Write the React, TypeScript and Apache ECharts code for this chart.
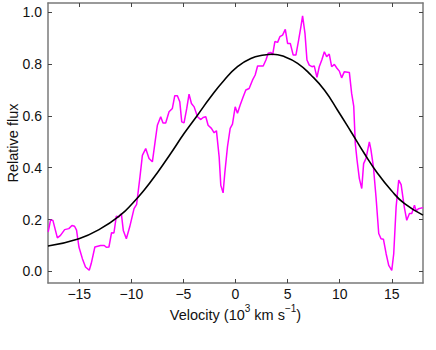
import React, { useEffect, useRef } from "react";
import * as echarts from "echarts";

const spectrumVelocity = [
  -17.98, -17.76, -17.53, -17.1, -16.8, -16.4, -16.0, -15.7, -15.45, -15.26, -15.03, -14.7, -14.4, -14.04, -13.85, -13.5,
  -12.95, -12.6, -12.4, -12.15, -11.9, -11.67, -11.44, -11.2, -10.96, -10.77, -10.48, -10.16, -9.74, -9.49, -9.17, -8.94,
  -8.62, -8.3, -7.98, -7.72, -7.5, -7.18, -6.96, -6.7, -6.38, -6.06, -5.83, -5.58, -5.35, -5.16, -4.94, -4.68, -4.46, -4.23,
  -3.97, -3.65, -3.33, -3.11, -2.85, -2.63, -2.31, -2.05, -1.83, -1.57, -1.41, -1.19, -1.03, -0.77, -0.51, -0.29, -0.03,
  0.19, 0.45, 0.74, 0.99, 1.31, 1.63, 1.89, 2.12, 2.37, 2.66, 2.92, 3.14, 3.4, 3.56, 3.78, 4.04, 4.26, 4.52, 4.78, 5.0,
  5.26, 5.54, 5.8, 6.06, 6.28, 6.44, 6.67, 6.86, 7.08, 7.34, 7.56, 7.82, 8.04, 8.3, 8.53, 8.75, 9.0, 9.23, 9.49, 9.74,
  9.97, 10.19, 10.45, 10.93, 11.15, 11.35, 11.5, 11.67, 11.89, 12.12, 12.3, 12.53, 12.85, 13.0, 13.24, 13.49, 13.75,
  13.97, 14.2, 14.46, 14.71, 15.0, 15.19, 15.42, 15.67, 15.9, 16.2, 16.44, 16.7, 16.92, 17.18, 17.34, 17.56, 18.0,
];
const spectrumFlux = [
  0.152, 0.197, 0.197, 0.129, 0.139, 0.161, 0.165, 0.177, 0.174, 0.159, 0.094, 0.049, 0.017, 0.004, 0.03, 0.094,
  0.1, 0.1, 0.093, 0.094, 0.149, 0.148, 0.213, 0.21, 0.223, 0.158, 0.126, 0.171, 0.242, 0.259, 0.365, 0.448,
  0.474, 0.436, 0.423, 0.5, 0.564, 0.597, 0.573, 0.573, 0.616, 0.629, 0.678, 0.678, 0.655, 0.577, 0.573, 0.629, 0.684, 0.648,
  0.635, 0.597, 0.586, 0.594, 0.597, 0.564, 0.552, 0.535, 0.543, 0.442, 0.332, 0.303, 0.378, 0.481, 0.552, 0.568, 0.635,
  0.61, 0.642, 0.674, 0.7, 0.706, 0.738, 0.758, 0.793, 0.793, 0.793, 0.816, 0.842, 0.845, 0.835, 0.887, 0.884, 0.906, 0.912, 0.934, 0.88,
  0.88, 0.835, 0.835, 0.893, 0.945, 0.986, 0.919, 0.816, 0.796, 0.79, 0.793, 0.749, 0.79, 0.818, 0.848, 0.829, 0.839, 0.79, 0.799, 0.784,
  0.773, 0.747, 0.771, 0.768, 0.687, 0.638, 0.494, 0.429, 0.358, 0.32, 0.416, 0.436, 0.5, 0.47, 0.403, 0.287, 0.146,
  0.126, 0.124, 0.068, 0.023, 0.004, 0.068, 0.249, 0.352, 0.335, 0.249, 0.197, 0.223, 0.223, 0.255, 0.233, 0.242, 0.246,
];

const fitVelocity = [
  -18, -15.03, -12.95, -11.0, -9.9, -8.78, -7.5, -6.22, -4.94, -3.65, -2.37, -1.09, 0.19, 1.47, 2.76, 3.56, 4.68, 5.96,
  7.24, 8.53, 9.8, 11.09, 12.37, 13.65, 14.94, 16.2, 18,
];
const fitFlux = [
  0.098, 0.126, 0.165, 0.219, 0.262, 0.313, 0.381, 0.455, 0.532, 0.603, 0.674, 0.738, 0.79, 0.822, 0.835, 0.838, 0.829, 0.803,
  0.758, 0.7, 0.622, 0.539, 0.455, 0.378, 0.313, 0.262, 0.217,
];

const xTicks = [-15, -10, -5, 0, 5, 10, 15];
const yTicks = [0, 0.2, 0.4, 0.6, 0.8, 1.0];

const FONT = "Liberation Sans, Arial, sans-serif";
const AXIS_COLOR = "#7a7a7a";

export default function App() {
  const ref = useRef<HTMLDivElement>(null);
  useEffect(() => {
    if (!ref.current) return;
    const chart = echarts.init(ref.current, null, { renderer: "svg" });
    const axisLine = { show: true, onZero: false, lineStyle: { color: AXIS_COLOR, width: 1.5 } };
    const tick = (vals: number[]) => ({
      show: true,
      inside: true,
      length: 4,
      customValues: vals,
      lineStyle: { color: "#444", width: 1 },
    });
    chart.setOption({
      animation: false,
      backgroundColor: "#fff",
      grid: { left: 48, right: 13, top: 3, bottom: 67, containLabel: false, outerBoundsMode: "none" },
      xAxis: [
        {
          type: "value",
          min: -18,
          max: 18,
          position: "bottom",
          axisLine,
          axisTick: tick(xTicks),
          splitLine: { show: false },
          axisLabel: {
            customValues: xTicks,
            formatter: (v: number) => String(v).replace("-", "\u2212"),
            color: "#111",
            fontSize: 14,
            fontFamily: FONT,
            margin: 4,
          },
          name: "Velocity (10{sup|3} km s{sup|\u22121})",
          nameLocation: "middle",
          nameGap: 20,
          nameMoveOverlap: false,
          nameTextStyle: {
            color: "#111",
            fontSize: 14.5,
            fontFamily: FONT,
            rich: {
              sup: { fontSize: 10, fontFamily: FONT, color: "#111", padding: [0, 0, 14, 0] },
            },
          },
        },
        {
          type: "value",
          min: -18,
          max: 18,
          position: "top",
          axisLine,
          axisTick: tick(xTicks),
          axisLabel: { show: false },
          splitLine: { show: false },
        },
      ],
      yAxis: [
        {
          type: "value",
          min: -0.045,
          max: 1.036,
          position: "left",
          axisLine,
          axisTick: tick(yTicks),
          splitLine: { show: false },
          axisLabel: {
            customValues: yTicks,
            formatter: (v: number) => v.toFixed(1),
            color: "#111",
            fontSize: 14,
            fontFamily: FONT,
            margin: 6,
          },
          name: "Relative flux",
          nameLocation: "middle",
          nameGap: 28,
          nameRotate: 90,
          nameMoveOverlap: false,
          nameTextStyle: { color: "#111", fontSize: 14.5, fontFamily: FONT },
        },
        {
          type: "value",
          min: -0.045,
          max: 1.036,
          position: "right",
          axisLine,
          axisTick: tick(yTicks),
          axisLabel: { show: false },
          splitLine: { show: false },
        },
      ],
      series: [
        {
          type: "line",
          data: spectrumVelocity.map((v, i) => [v, spectrumFlux[i]]),
          showSymbol: false,
          symbol: "none",
          lineStyle: { color: "#ff00ff", width: 1.5 },
          z: 2,
        },
        {
          type: "line",
          data: fitVelocity.map((v, i) => [v, fitFlux[i]]),
          showSymbol: false,
          symbol: "none",
          smooth: 0.5,
          lineStyle: { color: "#000", width: 1.6 },
          z: 3,
        },
      ],
    });
    return () => chart.dispose();
  }, []);
  return (
    <div
      ref={ref}
      style={{ position: "fixed", left: 0, top: 0, width: 436, height: 350, background: "#fff" }}
    />
  );
}
